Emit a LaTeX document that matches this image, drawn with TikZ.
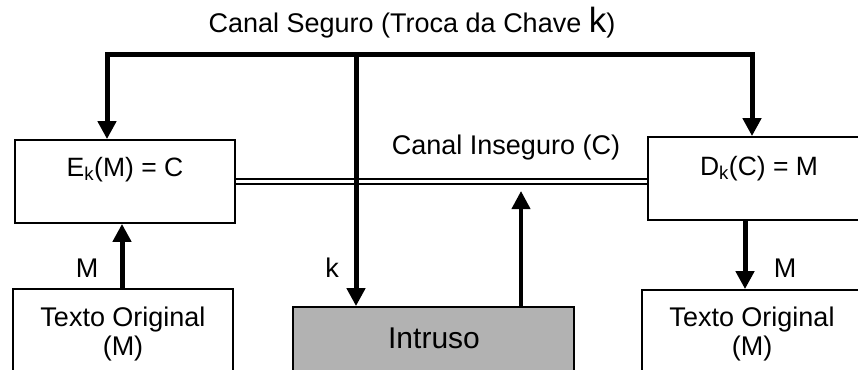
\documentclass[tikz,border=0pt]{standalone}
\usepackage{fontspec}
\setmainfont{Liberation Sans}
\usetikzlibrary{arrows.meta}
\begin{document}
\begin{tikzpicture}[x=1pt,y=-1pt,
  txt/.style={inner sep=0pt,anchor=base,font=\fontsize{27}{31}\selectfont},
  boxnode/.style={draw,line width=1.8pt,inner sep=0pt,fill=white},
  arr/.style={line width=5pt,-{Triangle[width=18pt,length=18pt]}},
  arrtwo/.style={line width=5pt,{Triangle[width=18pt,length=18pt]}-{Triangle[width=18pt,length=18pt]},line join=miter},
  chan/.style={double,line width=2pt,double distance=2.5pt}]
\useasboundingbox (0,0) rectangle (858,369);
\clip (0,0) rectangle (858,369);
\fill[white] (0,0) rectangle (858,369);
% boxes
\node[boxnode,minimum width=220pt,minimum height=83pt] (E) at (125,181.5) {};
\node[boxnode,minimum width=222pt,minimum height=83pt] (D) at (759,178.5) {};
\node[boxnode,minimum width=220pt,minimum height=120pt] (LT) at (123,349) {};
\node[boxnode,minimum width=228pt,minimum height=120pt] (RT) at (756,350) {};
\node[boxnode,fill=black!30,minimum width=281pt,minimum height=120pt] (I) at (433.5,367) {};
% texts
\node[txt,font=\fontsize{26.5}{30}\selectfont] (Et) at (125,176) {E\textsubscript{k}(M) = C};
\node[txt,font=\fontsize{26.5}{30}\selectfont] (Dt) at (759,175) {D\textsubscript{k}(C) = M};
\node[txt] (LT1) at (123,326) {Texto Original};
\node[txt] (LT2) at (123,355) {(M)};
\node[txt] (RT1) at (752,326) {Texto Original};
\node[txt] (RT2) at (752,355) {(M)};
\node[txt,font=\fontsize{30}{34}\selectfont] (It) at (434,348) {Intruso};
\node[txt] (title) at (412,33) {Canal Seguro (Troca da Chave {\fontsize{35}{35}\selectfont k})};
\node[txt] (ins) at (506,154) {Canal Inseguro (C)};
\node[txt] (ML) at (87,277) {M};
\node[txt] (kl) at (332,277) {k};
\node[txt] (MR) at (785,277) {M};
% connectors
\coordinate (tl) at (107,54.5);
\coordinate (tr) at (752,54.5);
\coordinate (kt) at (356,54.5);
\coordinate (it) at (521,191);
\draw[chan] (E.east) -- (D.west |- E.east);
\draw[arrtwo] (E.north -| tl) -- (tl) -- (tr) -- (D.north -| tr);
\draw[arr] (kt) -- (I.north -| kt);
\draw[arr,line width=4pt] (I.north -| it) -- (it);
\draw[arr] (LT.north -| 122,0) -- (E.south -| 122,0);
\draw[arr] (D.south -| 745,0) -- (RT.north -| 745,0);
\end{tikzpicture}
\end{document}
